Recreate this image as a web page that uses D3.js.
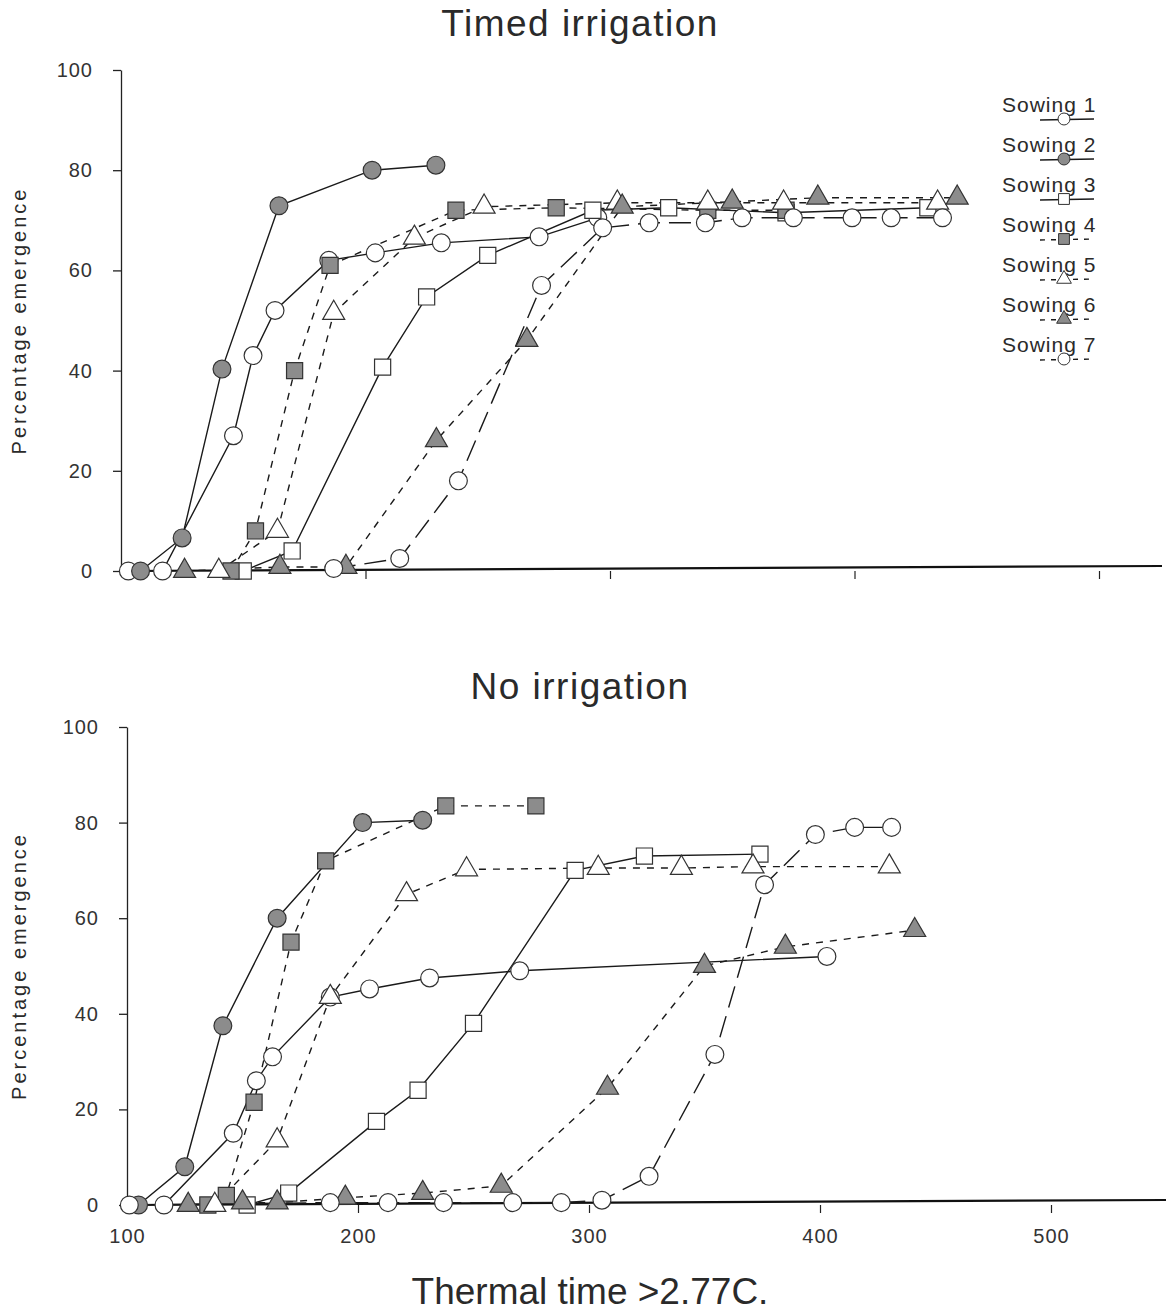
<!DOCTYPE html>
<html>
<head>
<meta charset="utf-8">
<script src="https://cdn.jsdelivr.net/npm/d3@7"></script>
<style>
body { margin: 0; background: #fff; }
text { font-family: "Liberation Sans", Arial, sans-serif; fill: #2a2a2a; }
</style>
</head>
<body>
<script>
//wraps everything in a self-executing anonymous function to move to local scope
(function(){

//series names
var sowings = ["Sowing 1", "Sowing 2", "Sowing 3", "Sowing 4", "Sowing 5", "Sowing 6", "Sowing 7"];

//timed irrigation, [thermal time, % emergence]
var timedS1 = [[103,0],[117,0],[146,27],[154,43],[163,52],[185,62],[204,63.5],[231,65.5],[271,66.7],[295,70.5]];
var timedS2 = [[108,0],[125,6.6],[141.3,40.3],[164.6,72.9],[202.7,80],[228.8,81]];
var timedS3 = [[150,0],[170,4],[207,40.7],[225,54.7],[250,63],[293,72],[324,72.5],[372,71.5],[430,72.5]];
var timedS4 = [[145,0],[155,8],[171,40],[185.5,61],[237,72],[278,72.5],[340,72],[372,72]];
var timedS5 = [[140,0],[164,8],[187,51.5],[220,66.5],[248.5,72.7],[303,73.5],[340,73.5],[371,73.5],[434,73.5]];
var timedS6 = [[126,0],[165,0.8],[192,0.8],[229,26.1],[266,46.1],[305,72.7],[350,73.7],[385,74.5],[442,74.5]];
var timedS7 = [[187,0.5],[214,2.5],[238,18],[272,57],[297,68.5],[316,69.5],[339,69.5],[354,70.5],[375,70.5],[399,70.5],[415,70.5],[436,70.5]];

//no irrigation
var dryS1 = [[116,0],[146,15],[156,26],[163,31],[188,43.5],[205,45.2],[231,47.5],[270,49],[403,52]];
var dryS2 = [[105,0],[125,8],[141.5,37.5],[165,60],[202,80],[228,80.5]];
var dryS3 = [[152,0],[170,2.5],[208,17.5],[226,24],[250,38],[294,70],[324,73],[374,73.4]];
var dryS4 = [[135,0],[143,2],[155,21.5],[171,55],[186,72],[238,83.5],[277,83.5]];
var dryS5 = [[138,0],[165,13.5],[188,43.5],[221,65],[247,70.2],[304,70.5],[340,70.5],[371,70.8],[430,70.8]];
var dryS6 = [[126.5,0],[150,0.5],[165,0.5],[194.5,1.5],[228,2.5],[262,4],[308,24.5],[350,50],[385,54],[441,57.5]];
var dryS7 = [[101,0],[188,0.5],[213,0.5],[237,0.5],[267,0.5],[288,0.5],[305.6,1],[326,6],[354.5,31.5],[376,67],[398,77.5],[415,79],[431,79]];

//axis ticks
var yTicks = [0, 20, 40, 60, 80, 100];
var xTicks = [100, 200, 300, 400, 500];

//marker and line style per sowing
var styles = [
	{shape: d3.symbolCircle, size: 250, fill: "#fff", dash: null},
	{shape: d3.symbolCircle, size: 250, fill: "#8c8c8c", dash: null},
	{shape: d3.symbolSquare, size: 260, fill: "#fff", dash: null},
	{shape: d3.symbolSquare, size: 260, fill: "#8c8c8c", dash: "7,7"},
	{shape: d3.symbolTriangle, size: 210, fill: "#fff", dash: "7,7"},
	{shape: d3.symbolTriangle, size: 210, fill: "#8c8c8c", dash: "7,7"},
	{shape: d3.symbolCircle, size: 250, fill: "#fff", dash: "22,9"}
];

var svg = d3.select("body")
	.append("svg")
	.attr("width", 1170)
	.attr("height", 1313);

//top panel
drawPanel({
	title: "Timed irrigation",
	titleY: 36,
	series: [timedS1, timedS2, timedS3, timedS4, timedS5, timedS6, timedS7],
	x: d3.scaleLinear().domain([100, 500]).range([121, 1099]),
	y: d3.scaleLinear().domain([0, 100]).range([571, 70]),
	axisEnd: 1162,
	xLabels: false
});

//bottom panel
drawPanel({
	title: "No irrigation",
	titleY: 699,
	series: [dryS1, dryS2, dryS3, dryS4, dryS5, dryS6, dryS7],
	x: d3.scaleLinear().domain([100, 500]).range([127, 1051]),
	y: d3.scaleLinear().domain([0, 100]).range([1205, 727]),
	axisEnd: 1166,
	xLabels: true
});

//x axis title
svg.append("text")
	.attr("x", 590)
	.attr("y", 1304)
	.attr("text-anchor", "middle")
	.style("font-size", "37px")
	.text("Thermal time >2.77C.");

drawLegend();

function drawPanel(p){
	var x0 = p.x.range()[0],
		y0 = p.y.range()[0];

	svg.append("text")
		.attr("x", 580)
		.attr("y", p.titleY)
		.attr("text-anchor", "middle")
		.style("font-size", "37px")
		.style("letter-spacing", "1.5px")
		.text(p.title);

	//y axis label
	svg.append("text")
		.attr("transform", "translate(26," + ((p.y.range()[0] + p.y.range()[1]) / 2) + ") rotate(-90)")
		.attr("text-anchor", "middle")
		.style("font-size", "20px")
		.style("letter-spacing", "3px")
		.text("Percentage emergence");

	//y axis
	var yAxis = svg.append("g")
		.attr("transform", "translate(" + x0 + ",0)")
		.call(d3.axisLeft(p.y).tickValues(yTicks).tickSize(8).tickPadding(20).tickSizeOuter(0));
	yAxis.selectAll("text").style("font-size", "20px").style("letter-spacing", "1px").style("fill", "#333");
	yAxis.selectAll("line, path").attr("stroke", "#222").attr("stroke-width", 1.3);

	//x axis
	var xAxis = svg.append("g")
		.attr("transform", "translate(0," + y0 + ")")
		.call(d3.axisBottom(p.x).tickValues(p.xLabels ? xTicks : xTicks.slice(1)).tickSize(8).tickPadding(16).tickSizeOuter(0));
	xAxis.select(".domain").remove();
	xAxis.selectAll("line").attr("stroke", "#222").attr("stroke-width", 1.2);
	xAxis.selectAll("text").style("font-size", "20px").style("letter-spacing", "1px").style("fill", "#333");
	if (!p.xLabels){
		xAxis.selectAll("text").remove();
	} else {
		xAxis.selectAll(".tick").filter(function(d){ return d == 100; }).select("line").remove();
	};
	svg.append("line")
		.attr("x1", x0)
		.attr("x2", p.axisEnd)
		.attr("y1", y0)
		.attr("y2", y0 - 5)
		.attr("stroke", "#111")
		.attr("stroke-width", 2.2);

	var line = d3.line()
		.x(function(d){ return p.x(d[0]); })
		.y(function(d){ return p.y(d[1]); });

	//lines first, markers on top
	p.series.forEach(function(s, i){
		svg.append("path")
			.datum(s)
			.attr("d", line)
			.attr("fill", "none")
			.attr("stroke", "#1a1a1a")
			.attr("stroke-width", 1.4)
			.attr("stroke-dasharray", styles[i].dash);
	});

	p.series.forEach(function(s, i){
		svg.selectAll(".m" + i + p.titleY)
			.data(s)
			.enter()
			.append("path")
			.attr("transform", function(d){ return "translate(" + p.x(d[0]) + "," + p.y(d[1]) + ")"; })
			.attr("d", d3.symbol().type(styles[i].shape).size(styles[i].size))
			.attr("fill", styles[i].fill)
			.attr("stroke", "#333")
			.attr("stroke-width", 1.2);
	});
};

function drawLegend(){
	var lx = 1002,
		ly = 112,
		step = 40;

	sowings.forEach(function(name, i){
		var y = ly + i * step;
		svg.append("text")
			.attr("x", lx)
			.attr("y", y)
			.style("font-size", "21px")
			.style("letter-spacing", "1px")
			.text(name);

		svg.append("line")
			.attr("x1", lx + 38)
			.attr("x2", lx + 92)
			.attr("y1", y + 8)
			.attr("y2", y + 7)
			.attr("stroke", "#1a1a1a")
			.attr("stroke-width", 1.4)
			.attr("stroke-dasharray", styles[i].dash ? "5,6" : null);

		svg.append("path")
			.attr("transform", "translate(" + (lx + 62) + "," + (y + 7) + ")")
			.attr("d", d3.symbol().type(styles[i].shape).size(styles[i].size * 0.45))
			.attr("fill", styles[i].fill)
			.attr("stroke", "#333")
			.attr("stroke-width", 1);
	});
};

})();
</script>
</body>
</html>
